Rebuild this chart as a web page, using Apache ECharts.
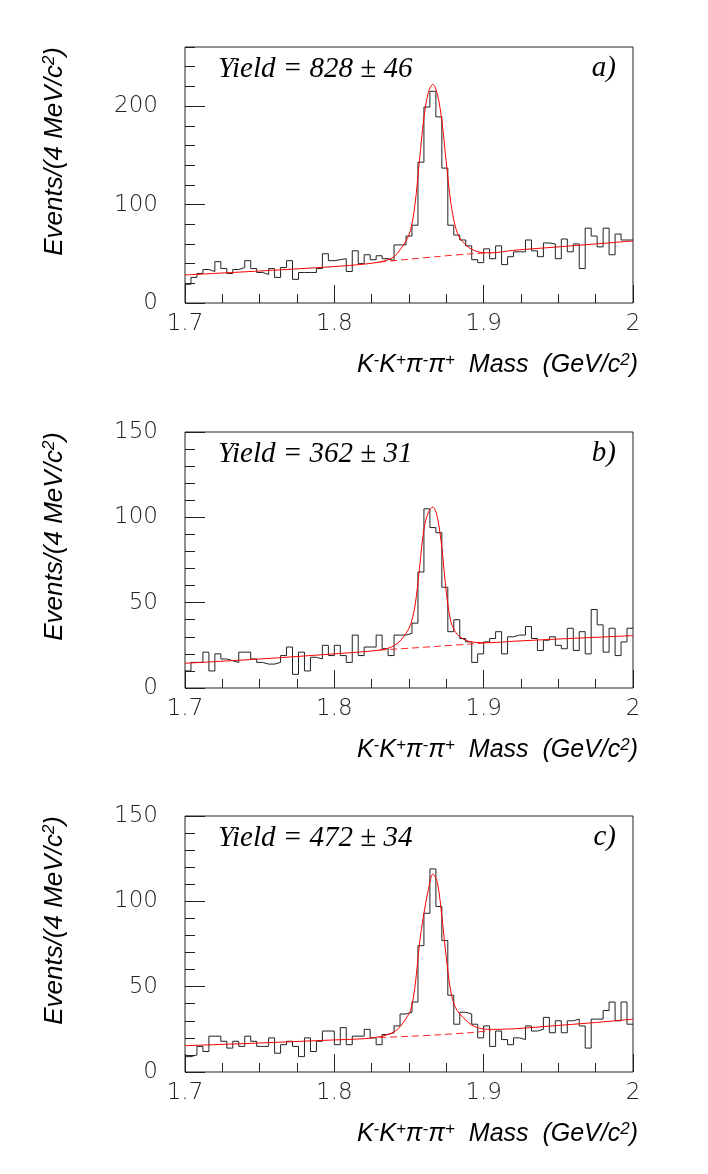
<!DOCTYPE html>
<html>
<head>
<meta charset="utf-8">
<title>K K pi pi mass spectra</title>
<script src="https://cdn.jsdelivr.net/npm/echarts@6/dist/echarts.min.js"></script>
<style>
  html, body { margin: 0; padding: 0; background: #fff; }
  #chart { width: 708px; height: 1174px; }
</style>
</head>
<body>
<div id="chart"></div>
<script>
// binning of the mass histograms (GeV/c^2)
const massMin = 1.7;
const massMax = 2.0;
const binWidth = 0.004;

// events per 4 MeV bin
const countsA = [19, 26, 30, 34, 32, 42, 35, 30, 34, 36, 43, 35, 31, 29, 35, 26, 36, 43, 24, 31,
                 31, 31, 35, 50, 43, 44, 45, 32, 53, 40, 49, 44, 48, 45, 43, 59, 59, 68, 79, 143,
                 199, 215, 189, 137, 79, 69, 64, 58, 44, 41, 55, 45, 58, 39, 47, 52, 52, 64, 53, 47,
                 61, 60, 45, 65, 52, 60, 35, 76, 68, 57, 76, 49, 70, 64, 64];
const countsB = [10, 15, 15, 21, 10, 20, 17, 16, 15, 21, 21, 17, 15, 14, 14, 15, 19, 24, 8, 21,
                 10, 18, 17, 25, 19, 25, 19, 15, 31, 19, 24, 24, 31, 23, 19, 31, 31, 32, 38, 68,
                 105, 94, 91, 59, 33, 40, 29, 27, 15, 20, 27, 29, 33, 20, 30, 31, 31, 36, 29, 22,
                 28, 30, 25, 23, 35, 22, 33, 20, 46, 37, 21, 35, 19, 27, 35];
const countsC = [9, 10, 15, 12, 21, 21, 18, 14, 18, 15, 21, 18, 15, 15, 20, 11, 16, 18, 15, 9,
                 20, 12, 18, 24, 24, 16, 26, 16, 21, 21, 25, 20, 16, 22, 23, 27, 34, 35, 41, 74,
                 93, 119, 97, 77, 45, 28, 35, 34, 28, 20, 27, 15, 24, 19, 16, 20, 19, 27, 24, 25,
                 32, 23, 30, 23, 30, 31, 27, 14, 31, 31, 36, 41, 30, 41, 28];

// fitted curve (signal + background)
const fitMass = [1.70, 1.75, 1.80, 1.82, 1.83, 1.836, 1.84, 1.844, 1.848, 1.851, 1.854, 1.857,
                 1.860, 1.863, 1.866, 1.869, 1.872, 1.875, 1.878, 1.881, 1.884, 1.888, 1.892,
                 1.898, 1.905, 1.92, 1.95, 1.975, 2.0];
const fitA = [28.5, 32.5, 37, 39.5, 41.5, 44, 47, 54, 63, 74, 100, 145,
              188, 214, 222, 212, 185, 142, 102, 78, 66, 59, 54.5,
              51.5, 51, 53.5, 57, 60, 63];
const fitB = [14.5, 17, 20, 21.3, 22.2, 23.3, 24.8, 27.5, 32, 37, 48, 70,
              93, 103, 106, 100, 82, 56, 39, 33, 30, 28, 27,
              26.6, 26.6, 27.4, 28.7, 29.7, 30.7];
const fitC = [15.4, 17, 18.8, 19.5, 20.6, 22, 23.5, 26.5, 31.4, 36, 50, 75,
              93, 107, 116, 111, 91, 67, 47, 38, 34, 30.5, 27.5,
              25.5, 25, 25.3, 27.3, 29, 31];

// background alone under the peak (dashed)
const bgMass = [1.83, 1.85, 1.87, 1.89, 1.905];
const bgA = [41.5, 44.5, 47.3, 49.8, 51];
const bgB = [22.2, 23.3, 24.5, 25.7, 26.6];
const bgC = [20.2, 20.9, 21.8, 23.0, 24.2];

// axis ranges and annotations
const yMax = [260, 150, 150];
const yMajor = [100, 50, 50];
const yMinor = [20, 10, 10];
const yieldText = ['Yield = 828 \u00b1 46', 'Yield = 362 \u00b1 31', 'Yield = 472 \u00b1 34'];
const panelTag = ['a)', 'b)', 'c)'];

const counts = [countsA, countsB, countsC];
const fits = [fitA, fitB, fitC];
const bgs = [bgA, bgB, bgC];

const gridTop = [47, 432, 816];
const axisColor = '#222';
const tickFont = { fontSize: 23, fontFamily: 'DejaVu Sans', fontWeight: 200, color: '#222' };
const sansItalic = 'Liberation Sans, Arial, sans-serif';
const serifItalic = { fontFamily: 'Liberation Serif, Times New Roman, serif', fontStyle: 'italic',
                      fontWeight: 'normal', fontSize: 29, color: '#000' };
const sup = { fontSize: 17, verticalAlign: 'top', lineHeight: 17, fontStyle: 'italic',
              color: '#000', fontFamily: sansItalic };

function stepPoints(c) {
  const pts = c.map((v, i) => [massMin + i * binWidth, v]);
  pts.push([massMin + c.length * binWidth, c[c.length - 1]]);
  return pts;
}
function zip(xs, ys) {
  return xs.map((x, i) => [x, ys[i]]);
}

const chart = echarts.init(document.getElementById('chart'));
const option = {
  animation: false,
  backgroundColor: '#fff',
  title: [],
  grid: [],
  xAxis: [],
  yAxis: [],
  series: []
};

for (let k = 0; k < 3; k++) {
  option.grid.push({
    left: 185, top: gridTop[k], width: 448, height: 256,
    show: true, borderColor: axisColor, borderWidth: 1, backgroundColor: 'transparent'
  });

  option.title.push({ text: yieldText[k], left: 213, top: gridTop[k] + 3, textStyle: serifItalic });
  option.title.push({ text: panelTag[k], right: 87, top: gridTop[k] + 2, textStyle: serifItalic });

  option.xAxis.push({
    type: 'value', gridIndex: k, min: massMin, max: massMax, interval: 0.1,
    axisLine: { show: false },
    axisTick: { inside: true, length: 18, lineStyle: { color: axisColor } },
    minorTick: { show: true, splitNumber: 4, length: 9, lineStyle: { color: axisColor } },
    splitLine: { show: false },
    axisLabel: Object.assign({ margin: 10 }, tickFont),
    name: '{i|K}{s|-}{i|K}{s|+}{i|\u03c0}{s|-}{i|\u03c0}{s|+}{i|  Mass  (GeV/c}{s|2}{i|)}',
    nameLocation: 'end',
    nameGap: 5,
    nameMoveOverlap: false,
    nameTextStyle: {
      align: 'right', verticalAlign: 'top', padding: [49, 0, 0, 0],
      rich: {
        i: { fontSize: 25, lineHeight: 27, fontStyle: 'italic', color: '#000', fontFamily: sansItalic },
        s: sup
      }
    }
  });

  option.yAxis.push({
    type: 'value', gridIndex: k, min: 0, max: yMax[k], interval: yMajor[k],
    axisLine: { show: false },
    axisTick: { inside: true, length: 20, lineStyle: { color: axisColor } },
    splitLine: { show: false },
    axisLabel: Object.assign({ margin: 27, showMaxLabel: yMax[k] % yMajor[k] === 0 ? null : false }, tickFont),
    name: 'Events/(4 MeV/c{s|2})',
    nameLocation: 'end',
    nameGap: 0,
    nameRotate: 90,
    nameMoveOverlap: false,
    nameTextStyle: {
      align: 'right', verticalAlign: 'bottom', padding: [0, 0, 116, 0],
      fontSize: 26, lineHeight: 28, fontStyle: 'italic', color: '#000', fontFamily: sansItalic,
      rich: { s: sup }
    }
  });
  // short ticks between the labelled ones
  option.yAxis.push({
    type: 'value', gridIndex: k, position: 'left', min: 0, max: yMax[k], interval: yMinor[k],
    axisLine: { show: false },
    axisTick: { inside: true, length: 10, lineStyle: { color: axisColor } },
    axisLabel: { show: false },
    splitLine: { show: false }
  });

  option.series.push({
    type: 'line', xAxisIndex: k, yAxisIndex: 2 * k, step: 'end',
    data: stepPoints(counts[k]), symbol: 'none',
    lineStyle: { color: '#222', width: 1 }, z: 2
  });
  option.series.push({
    type: 'line', xAxisIndex: k, yAxisIndex: 2 * k,
    data: zip(bgMass, bgs[k]), symbol: 'none', smooth: 0.3,
    lineStyle: { color: '#ff2020', width: 1, type: [7, 4] }, z: 3
  });
  option.series.push({
    type: 'line', xAxisIndex: k, yAxisIndex: 2 * k,
    data: zip(fitMass, fits[k]), symbol: 'none', smooth: 0.35,
    lineStyle: { color: '#ff0000', width: 1 }, z: 4
  });
}

chart.setOption(option);
</script>
</body>
</html>
